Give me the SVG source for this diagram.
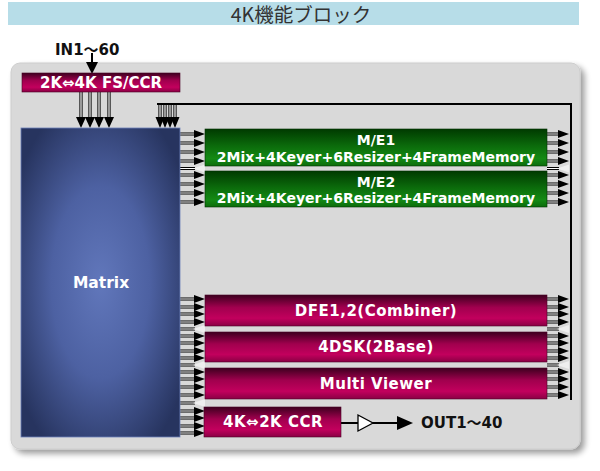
<svg xmlns="http://www.w3.org/2000/svg" width="600" height="471" viewBox="0 0 600 471">
<style>
.t{font-family:"DejaVu Sans","Noto Sans CJK JP",sans-serif;font-weight:bold;fill:#fff;text-anchor:middle}
.k{font-family:"DejaVu Sans","Noto Sans CJK JP",sans-serif;font-weight:bold;fill:#111}
.wo{fill:none;stroke:#000;stroke-width:3.2}
.wi{fill:none;stroke:#fff;stroke-width:1.2}
.ah{fill:#000}
.pa{fill:#eeeeee}
.mar{fill:url(#gMar);stroke:#4a0026;stroke-width:0.6}
.grn{fill:url(#gGrn);stroke:#003000;stroke-width:0.6}
</style>
<defs>
<linearGradient id="gMar" x1="0" y1="0" x2="0" y2="1">
<stop offset="0" stop-color="#3d001f"/>
<stop offset="0.4" stop-color="#a1004e"/>
<stop offset="0.75" stop-color="#c2005d"/>
<stop offset="1" stop-color="#8a0044"/>
</linearGradient>
<linearGradient id="gGrn" x1="0" y1="0" x2="0" y2="1">
<stop offset="0" stop-color="#003a00"/>
<stop offset="0.45" stop-color="#0b6a0b"/>
<stop offset="0.8" stop-color="#148a14"/>
<stop offset="1" stop-color="#0c6c0c"/>
</linearGradient>
<radialGradient id="gMat" cx="0.5" cy="0.5" r="0.62">
<stop offset="0" stop-color="#6177bb"/>
<stop offset="0.5" stop-color="#4d61a2"/>
<stop offset="1" stop-color="#27345f"/>
</radialGradient>
<filter id="sh" x="-5%" y="-5%" width="112%" height="115%">
<feGaussianBlur in="SourceAlpha" stdDeviation="3"/>
<feOffset dx="4" dy="4" result="b"/>
<feComponentTransfer><feFuncA type="linear" slope="0.4"/></feComponentTransfer>
<feMerge><feMergeNode/><feMergeNode in="SourceGraphic"/></feMerge>
</filter>
<path id="wires" d="M81,92V117M90,92V117M99,92V117M109,92V117M160,104V117M165,104V117M170,104V117M175,104V117
M180,134H195M180,143H195M180,152H195M180,161H195M180,168.5H195
M180,175H195M180,184H195M180,193H195M180,202H195
M180,299H195M180,307H195M180,314H195M180,322H195M180,329H195
M180,336H195M180,343H195M180,351H195M180,358H195M180,365H195
M180,372H195M180,379H195M180,387H195M180,395H195M180,403H195
M180,411H195M180,418H195M180,426H195M180,433H195
M547,134H559M547,143H559M547,152H559M547,161H559M547,168.5H559
M547,175H559M547,184H559M547,193H559M547,202H559
M547,299H559M547,307H559M547,314H559M547,322H559M547,329H559
M547,336H559M547,343H559M547,351H559M547,358H559M547,365H559
M547,372H559M547,379H559M547,387H559M547,395H559"/>
</defs>

<g id="title">
<rect x="8" y="2" width="571" height="23" fill="#b7dde8"/>
<text x="301" y="21.5" font-family="'Noto Sans CJK JP',sans-serif" font-size="19.5" fill="#333" text-anchor="middle">4K機能ブロック</text>
</g>

<g id="panel">
<rect x="11" y="63" width="569" height="386" rx="9" fill="#d9d9d9" stroke="#cdcdcd" stroke-width="1" filter="url(#sh)"/>
</g>

<g id="connectors">
<use href="#wires" class="wo"/>
<use href="#wires" class="wi"/>
<path d="M157,104H571V400" fill="none" stroke="#000" stroke-width="2"/>
<path d="M92,53V63" stroke="#000" stroke-width="2"/>
<polygon class="ah" points="86,62 98,62 92,74"/>
<polygon class="ah" points="76,117 86,117 81,128"/>
<polygon class="ah" points="85,117 95,117 90,128"/>
<polygon class="ah" points="94,117 104,117 99,128"/>
<polygon class="ah" points="104,117 114,117 109,128"/>
<polygon class="ah" points="155.5,117 164.5,117 160,128"/>
<polygon class="ah" points="160.5,117 169.5,117 165,128"/>
<polygon class="ah" points="165.5,117 174.5,117 170,128"/>
<polygon class="ah" points="170.5,117 179.5,117 175,128"/>
<g class="ah">
<polygon points="194,130 205,134 194,138"/><polygon points="194,139 205,143 194,147"/><polygon points="194,148 205,152 194,156"/><polygon points="194,157 205,161 194,165"/>
<polygon points="194,171 205,175 194,179"/><polygon points="194,180 205,184 194,188"/><polygon points="194,189 205,193 194,197"/><polygon points="194,198 205,202 194,206"/>
<polygon points="194,295 205,299 194,303"/><polygon points="194,303 205,307 194,311"/><polygon points="194,310 205,314 194,318"/><polygon points="194,318 205,322 194,326"/>
<polygon points="194,332 205,336 194,340"/><polygon points="194,339 205,343 194,347"/><polygon points="194,347 205,351 194,355"/><polygon points="194,354 205,358 194,362"/>
<polygon points="194,368 205,372 194,376"/><polygon points="194,375 205,379 194,383"/><polygon points="194,383 205,387 194,391"/><polygon points="194,391 205,395 194,399"/>
<polygon points="194,407 205,411 194,415"/><polygon points="194,414 205,418 194,422"/><polygon points="194,422 205,426 194,430"/><polygon points="194,429 205,433 194,437"/>
</g>
<g class="ah">
<polygon points="558,130 569,134 558,138"/><polygon points="558,139 569,143 558,147"/><polygon points="558,148 569,152 558,156"/><polygon points="558,157 569,161 558,165"/>
<polygon points="558,171 569,175 558,179"/><polygon points="558,180 569,184 558,188"/><polygon points="558,189 569,193 558,197"/><polygon points="558,198 569,202 558,206"/>
<polygon points="558,295 569,299 558,303"/><polygon points="558,303 569,307 558,311"/><polygon points="558,310 569,314 558,318"/><polygon points="558,318 569,322 558,326"/>
<polygon points="558,332 569,336 558,340"/><polygon points="558,339 569,343 558,347"/><polygon points="558,347 569,351 558,355"/><polygon points="558,354 569,358 558,362"/>
<polygon points="558,368 569,372 558,376"/><polygon points="558,375 569,379 558,383"/><polygon points="558,383 569,387 558,391"/><polygon points="558,391 569,395 558,399"/>
</g>
<g class="pa">
<polygon points="205,164.5 193,168.5 205,172.5"/><polygon points="205,325 193,329 205,333"/><polygon points="205,361 193,365 205,369"/><polygon points="205,399 193,403 205,407"/>
<polygon points="569,164.5 557,168.5 569,172.5"/><polygon points="569,325 557,329 569,333"/><polygon points="569,361 557,365 569,369"/>
</g>
<path d="M341,423H399" stroke="#000" stroke-width="2"/>
<polygon points="358,415 373,423 358,431" fill="#fff" stroke="#000" stroke-width="1.3"/>
<polygon class="ah" points="397,416 413,423 397,430"/>
</g>

<g id="in-label"><text class="k" x="55" y="55" font-size="15">IN1～60</text></g>
<g id="out-label"><text class="k" x="421" y="428" font-size="15">OUT1～40</text></g>

<g id="fsccr">
<rect class="mar" x="22" y="73" width="158" height="19"/>
<text class="t" x="101" y="88" font-size="15">2K⇔4K FS/CCR</text>
</g>

<g id="matrix">
<rect x="21" y="128" width="159" height="309" fill="url(#gMat)" stroke="#6b7fb8" stroke-width="0.8"/>
<text class="t" x="101" y="288" font-size="15.5">Matrix</text>
</g>

<g id="me1">
<rect class="grn" x="205" y="129" width="342" height="37"/>
<text class="t" x="376" y="145" font-size="14">M/E1</text>
<text class="t" x="376" y="162" font-size="14">2Mix+4Keyer+6Resizer+4FrameMemory</text>
</g>
<g id="me2">
<rect class="grn" x="205" y="171" width="342" height="36"/>
<text class="t" x="376" y="187" font-size="14">M/E2</text>
<text class="t" x="376" y="203" font-size="14">2Mix+4Keyer+6Resizer+4FrameMemory</text>
</g>
<g id="dfe">
<rect class="mar" x="205" y="295" width="342" height="31"/>
<text class="t" x="376" y="316" font-size="15" letter-spacing="0.5">DFE1,2(Combiner)</text>
</g>
<g id="dsk">
<rect class="mar" x="205" y="332" width="342" height="30"/>
<text class="t" x="376" y="352" font-size="15" letter-spacing="0.5">4DSK(2Base)</text>
</g>
<g id="mv">
<rect class="mar" x="205" y="368" width="342" height="31"/>
<text class="t" x="376" y="389" font-size="15" letter-spacing="0.5">Multi Viewer</text>
</g>
<g id="ccr">
<rect class="mar" x="204" y="407" width="137" height="30"/>
<text class="t" x="273" y="427" font-size="15" letter-spacing="0.5">4K⇔2K CCR</text>
</g>
</svg>
